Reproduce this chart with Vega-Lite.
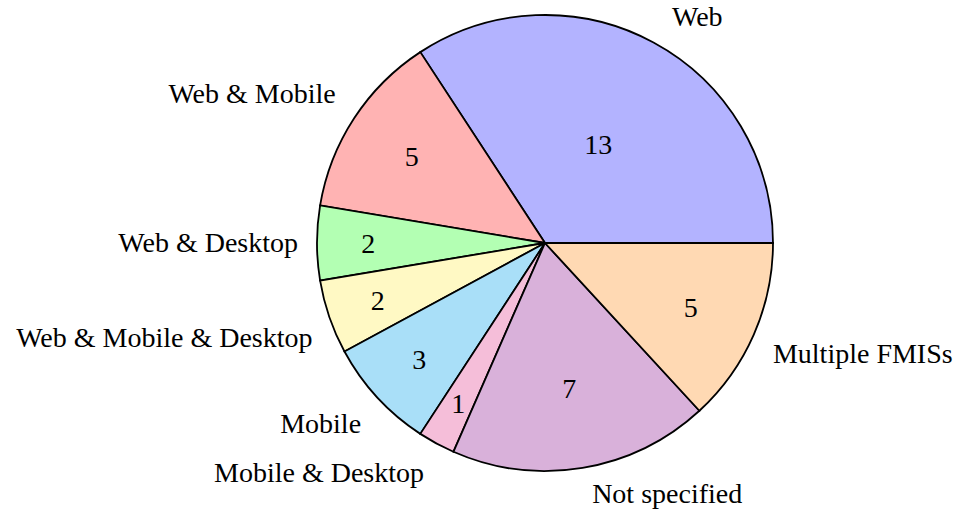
{
  "$schema": "https://vega.github.io/schema/vega-lite/v6.json",
  "width": 830,
  "height": 486,
  "autosize": {"type": "none"},
  "padding": {"left": 130, "top": 0, "right": 0, "bottom": 29},
  "background": "white",
  "config": {"view": {"stroke": null}, "text": {"font": "Liberation Serif", "fontSize": 28, "color": "black"}},
  "data": {
    "values": [
      {"label": "Web", "value": 13, "order": 1},
      {"label": "Web & Mobile", "value": 5, "order": 2},
      {"label": "Web & Desktop", "value": 2, "order": 3},
      {"label": "Web & Mobile & Desktop", "value": 2, "order": 4},
      {"label": "Mobile", "value": 3, "order": 5},
      {"label": "Mobile & Desktop", "value": 1, "order": 6},
      {"label": "Not specified", "value": 7, "order": 7},
      {"label": "Multiple FMISs", "value": 5, "order": 8}
    ]
  },
  "transform": [
    {"stack": "value", "groupby": [], "sort": [{"field": "order", "order": "descending"}], "as": ["v0", "v1"]},
    {"calculate": "(datum.v0 + datum.v1) / 2", "as": "mid"},
    {"calculate": "min((datum.value / 38 * 360 - 10) / 110 * (-0.3) + 0.8, 0.8)", "as": "rf"}
  ],
  "layer": [
    {
      "mark": {"type": "arc", "radius": 228, "stroke": "black", "strokeWidth": 1.8},
      "encoding": {
        "theta": {"field": "v0", "type": "quantitative", "stack": null, "scale": {"domain": [0, 38], "range": [1.5708, 7.854]}},
        "theta2": {"field": "v1"},
        "color": {
          "field": "label", "type": "nominal", "legend": null,
          "scale": {
            "domain": ["Web", "Web & Mobile", "Web & Desktop", "Web & Mobile & Desktop", "Mobile", "Mobile & Desktop", "Not specified", "Multiple FMISs"],
            "range": ["#b3b3ff", "#ffb3b3", "#b3ffb3", "#fff9c4", "#a9dff8", "#f5bed9", "#d9b1da", "#ffd9b3"]
          }
        }
      }
    },
    {
      "mark": {"type": "text", "align": "center", "baseline": "middle", "dy": 2},
      "encoding": {
        "theta": {"field": "mid", "type": "quantitative", "stack": null},
        "radius": {"field": "rf", "type": "quantitative", "scale": {"type": "linear", "domain": [0, 1], "range": [0, 228], "zero": true}},
        "text": {"field": "value", "type": "quantitative"}
      }
    },
    {
      "transform": [{"filter": {"field": "label", "oneOf": ["Web"]}}],
      "mark": {"type": "text", "radius": 250, "align": "left", "baseline": "alphabetic", "dx": 8, "dy": 3},
      "encoding": {"theta": {"field": "mid", "type": "quantitative", "stack": null}, "text": {"field": "label"}}
    },
    {
      "transform": [{"filter": {"field": "label", "oneOf": ["Web & Mobile"]}}],
      "mark": {"type": "text", "radius": 250, "align": "right", "baseline": "alphabetic", "dx": 0, "dy": -3},
      "encoding": {"theta": {"field": "mid", "type": "quantitative", "stack": null}, "text": {"field": "label"}}
    },
    {
      "transform": [{"filter": {"field": "label", "oneOf": ["Web & Desktop"]}}],
      "mark": {"type": "text", "radius": 250, "align": "right", "baseline": "alphabetic", "dx": 3, "dy": 9},
      "encoding": {"theta": {"field": "mid", "type": "quantitative", "stack": null}, "text": {"field": "label"}}
    },
    {
      "transform": [{"filter": {"field": "label", "oneOf": ["Web & Mobile & Desktop"]}}],
      "mark": {"type": "text", "radius": 250, "align": "right", "baseline": "alphabetic", "dx": 4, "dy": 23},
      "encoding": {"theta": {"field": "mid", "type": "quantitative", "stack": null}, "text": {"field": "label"}}
    },
    {
      "transform": [{"filter": {"field": "label", "oneOf": ["Mobile"]}}],
      "mark": {"type": "text", "radius": 250, "align": "right", "baseline": "alphabetic", "dx": 0, "dy": 21},
      "encoding": {"theta": {"field": "mid", "type": "quantitative", "stack": null}, "text": {"field": "label"}}
    },
    {
      "transform": [{"filter": {"field": "label", "oneOf": ["Mobile & Desktop"]}}],
      "mark": {"type": "text", "radius": 250, "align": "right", "baseline": "alphabetic", "dx": -2, "dy": 19},
      "encoding": {"theta": {"field": "mid", "type": "quantitative", "stack": null}, "text": {"field": "label"}}
    },
    {
      "transform": [{"filter": {"field": "label", "oneOf": ["Not specified"]}}],
      "mark": {"type": "text", "radius": 250, "align": "left", "baseline": "alphabetic", "dx": 6, "dy": 13},
      "encoding": {"theta": {"field": "mid", "type": "quantitative", "stack": null}, "text": {"field": "label"}}
    },
    {
      "transform": [{"filter": {"field": "label", "oneOf": ["Multiple FMISs"]}}],
      "mark": {"type": "text", "radius": 250, "align": "left", "baseline": "alphabetic", "dx": -1, "dy": 20},
      "encoding": {"theta": {"field": "mid", "type": "quantitative", "stack": null}, "text": {"field": "label"}}
    }
  ]
}
